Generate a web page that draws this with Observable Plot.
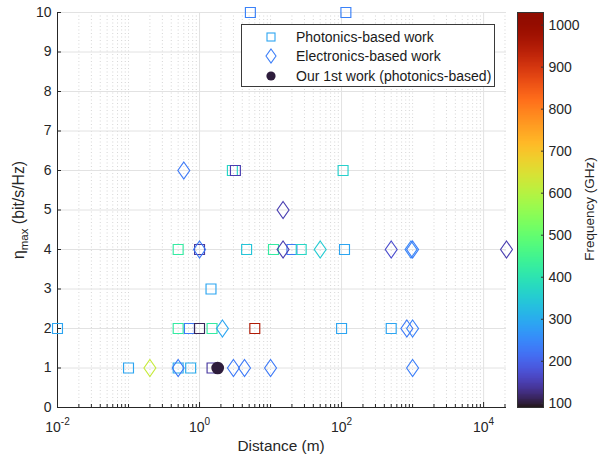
<!DOCTYPE html>
<html><head><meta charset="utf-8">
<script src="https://cdn.jsdelivr.net/npm/d3@7"></script>
<script src="https://cdn.jsdelivr.net/npm/@observablehq/plot@0.6"></script>
<style>
body{margin:0;background:#fff;}
#wrap{position:relative;width:599px;height:462px;overflow:hidden;font-family:"Liberation Sans",Arial,Helvetica,sans-serif;color:#262626;}
#wrap > svg{position:absolute;top:0;}
#legend{position:absolute;left:241px;top:24px;width:252px;height:61px;border:1px solid #3a3a3a;background:#fff;}
#legend .row{position:absolute;left:0;height:18px;width:250px;}
#legend .row svg{position:absolute;left:20px;top:0;}
#legend .row span{position:absolute;left:54px;top:0;line-height:18px;font-size:14px;white-space:nowrap;color:#1a1a1a;}
</style></head><body><div id="wrap"></div><script>
// ---------- data ----------
const photDist = [0.1, 0.5, 0.75, 1.5,  0.01, 0.5, 0.72, 1.0, 1.5, 6, 100, 500,  1.45,  0.5, 1.0, 4.6, 11, 20, 27, 110,  2.9, 3.2, 105,  5.2, 115];
const photEta  = [1, 1, 1, 1,  2, 2, 2, 2, 2, 2, 2, 2,  3,  4, 4, 4, 4, 4, 4, 4,  6, 6, 6,  10, 10];
const photFreq = [290, 300, 300, 140,  290, 420, 230, 110, 420, 950, 290, 290,  290,  420, 140, 340, 420, 230, 370, 290,  370, 150, 360,  240, 240];

const elecDist = [0.2, 0.5, 3, 4.3, 10, 1000,  2.1, 830, 1000,  1.0, 15, 50, 500, 950, 1000, 21000,  15,  0.6];
const elecEta  = [1, 1, 1, 1, 1, 1,  2, 2, 2,  4, 4, 4, 4, 4, 4, 4,  5,  6];
const elecFreq = [620, 230, 230, 230, 230, 235,  290, 230, 240,  230, 150, 350, 170, 250, 235, 150,  150,  230];

const ourDist = [1.8];
const ourEta  = [1];
const ourFreq = [100];

const xDomain = [0.01, 21000];
const yDomain = [0, 10];
const freqDomain = [90, 1030];
const xMajorTicks = [1e-2, 1e0, 1e2, 1e4];
const yTicks = [0, 1, 2, 3, 4, 5, 6, 7, 8, 9, 10];
const cbTicks = [100, 200, 300, 400, 500, 600, 700, 800, 900, 1000];
const legendLabels = ["Photonics-based work", "Electronics-based work", "Our 1st work (photonics-based)"];
const legendFreq = [290, 235, 100];

// minor log ticks (1..9 x 10^k) within the domain, excluding the labelled ones
const xMinorTicks = [];
for (let k = -2; k <= 4; k++) for (let m = 1; m <= 9; m++) {
  const v = m * Math.pow(10, k);
  if (v <= xDomain[1] && !(m === 1 && k % 2 === 0)) xMinorTicks.push(+v.toPrecision(6));
}

const photData = photDist.map((d, i) => ({dist: d, eta: photEta[i], freq: photFreq[i]}));
const elecData = elecDist.map((d, i) => ({dist: d, eta: elecEta[i], freq: elecFreq[i]}));
const ourData  = ourDist.map((d, i) => ({dist: d, eta: ourEta[i], freq: ourFreq[i]}));

const tallDiamond = {
  draw(ctx, size) {
    const s = Math.sqrt(size), h = s * 0.86, w = s * 0.6;
    ctx.moveTo(0, -h); ctx.lineTo(w, 0); ctx.lineTo(0, h); ctx.lineTo(-w, 0); ctx.closePath();
  }
};

const font = '"Liberation Sans", Arial, Helvetica, sans-serif';
const colorOpts = {type: "linear", scheme: "turbo", domain: freqDomain};

const main = Plot.plot({
  width: 599, height: 462,
  marginLeft: 57, marginRight: 93, marginTop: 12, marginBottom: 55,
  style: {fontFamily: font, fontSize: "14px", color: "#262626", background: "#fff"},
  x: {type: "log", domain: xDomain, label: null},
  y: {domain: yDomain, label: null},
  color: colorOpts,
  marks: [
    Plot.gridX(xMinorTicks, {stroke: "#cccccc", strokeOpacity: 1, strokeWidth: 0.8, strokeDasharray: "1,2.5"}),
    Plot.gridX(xMajorTicks.slice(1), {stroke: "#e2e2e2", strokeOpacity: 1}),
    Plot.gridY(yTicks.slice(1), {stroke: "#e2e2e2", strokeOpacity: 1}),
    Plot.axisX(xMajorTicks, {tickSize: 0, tickPadding: 15, fontSize: 14, tickFormat: d => "10|" + Math.round(Math.log10(d))}),
    Plot.axisX(xMajorTicks, {tickSize: 5, dy: -5, tickFormat: () => "", stroke: "#262626"}),
    Plot.axisX(xMinorTicks, {tickSize: 3, dy: -3, tickFormat: () => "", stroke: "#262626"}),
    Plot.axisY(yTicks, {tickSize: 0, tickPadding: 6, fontSize: 14}),
    Plot.axisY(yTicks, {tickSize: 4, dx: 4, tickFormat: () => "", stroke: "#262626"}),
    Plot.ruleX([xDomain[0]], {stroke: "#262626"}),
    Plot.ruleY([yDomain[0]], {stroke: "#262626"}),
    Plot.dot(photData, {x: "dist", y: "eta", stroke: "freq", fill: "none", symbol: "square", r: 5.6, strokeWidth: 1.15}),
    Plot.dot(elecData, {x: "dist", y: "eta", stroke: "freq", fill: "none", symbol: tallDiamond, r: 5.6, strokeWidth: 1.15}),
    Plot.dot(ourData, {x: "dist", y: "eta", fill: "freq", stroke: "freq", symbol: "circle", r: 5.6})
  ]
});

// superscript exponents on the x tick labels
d3.select(main).selectAll('g[aria-label="x-axis tick label"] text').each(function() {
  const parts = this.textContent.split("|");
  if (parts.length !== 2) return;
  const t = d3.select(this);
  t.text("");
  t.append("tspan").text(parts[0]);
  t.append("tspan").attr("font-size", 10).attr("dy", -7).text(parts[1]);
});

const msvg = d3.select(main);
msvg.append("text").attr("x", 281).attr("y", 451).attr("text-anchor", "middle")
  .attr("font-size", 15.4).attr("fill", "#262626").text("Distance (m)");
const yl = msvg.append("text").attr("transform", "translate(24,210) rotate(-90)")
  .attr("text-anchor", "middle").attr("font-size", 15.8).attr("fill", "#262626");
yl.append("tspan").text("η");
yl.append("tspan").attr("font-size", 11.5).attr("dy", 4).text("max");
yl.append("tspan").attr("dy", -4).text(" (bit/s/Hz)");

// ---------- colorbar ----------
const cbStops = d3.range(freqDomain[0], freqDomain[1], 2);
const cb = Plot.plot({
  width: 82, height: 462,
  marginLeft: 0, marginRight: 56, marginTop: 12, marginBottom: 55,
  style: {fontFamily: font, fontSize: "14px", color: "#262626", background: "transparent", overflow: "visible"},
  y: {domain: freqDomain, label: null},
  color: colorOpts,
  marks: [
    Plot.rect(cbStops, {y1: d => d, y2: d => Math.min(d + 5, freqDomain[1]), fill: d => d + 1, shapeRendering: "crispEdges"}),
    Plot.frame({stroke: "#333", strokeWidth: 1}),
    Plot.axisY(cbTicks, {anchor: "right", tickSize: 0, tickPadding: 5, fontSize: 14, tickFormat: d => String(d)}),
    Plot.axisY(cbTicks, {anchor: "right", tickSize: 3, dx: -3, tickFormat: () => "", stroke: "#333"})
  ]
});
d3.select(cb).append("text").attr("transform", "translate(77,209) rotate(-90)")
  .attr("text-anchor", "middle").attr("font-size", 13.5).attr("fill", "#262626").text("Frequency (GHz)");

const wrap = document.getElementById("wrap");
main.style.left = "0px";
cb.style.left = "517px";
wrap.appendChild(main);
wrap.appendChild(cb);

// ---------- legend ----------
const colorScale = main.scale("color");
const legend = document.createElement("div");
legend.id = "legend";
const icons = [
  c => `<svg width="18" height="18"><rect x="5" y="5" width="8" height="8" fill="none" stroke="${c}" stroke-width="1.1"/></svg>`,
  c => `<svg width="18" height="18"><polygon points="9,2 14,9 9,16 4,9" fill="none" stroke="${c}" stroke-width="1.1"/></svg>`,
  c => `<svg width="18" height="18"><circle cx="9" cy="9" r="4.6" fill="${c}"/></svg>`
];
const rowTops = [3, 22, 42];
legendLabels.forEach((lab, i) => {
  const row = document.createElement("div");
  row.className = "row";
  row.style.top = rowTops[i] + "px";
  row.innerHTML = icons[i](colorScale.apply(legendFreq[i])) + `<span>${lab}</span>`;
  legend.appendChild(row);
});
wrap.appendChild(legend);
</script></body></html>
